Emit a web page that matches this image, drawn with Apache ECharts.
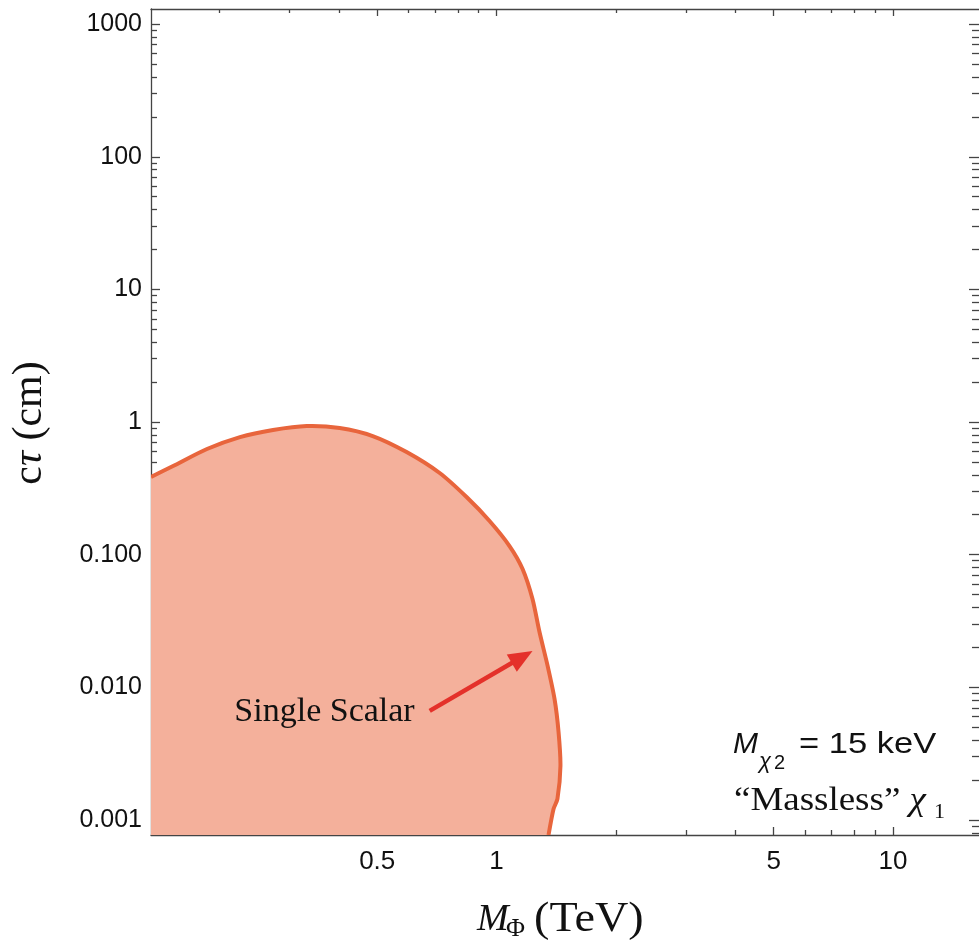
<!DOCTYPE html>
<html><head><meta charset="utf-8">
<script src="https://cdn.jsdelivr.net/npm/echarts@6/dist/echarts.min.js"></script>
<style>html,body{margin:0;padding:0;background:#fff}#c{width:979px;height:947px}</style>
</head><body><div id="c"></div>
<script>
// axis ranges
const xMin = 0.1344, xMax = 16.47;
const yMin = 0.00077, yMax = 1300;
// tick positions / labels
const xLabelTicks = [0.5, 1, 5, 10];
const xMinorTicks = [0.2, 0.3, 0.4, 0.6, 0.7, 0.8, 0.9, 2, 3, 4, 6, 7, 8, 9];
const yMajorTicks = [0.001, 0.01, 0.1, 1, 10, 100, 1000];
const yMinorTicks = [0.0008, 0.0009,
  0.002, 0.003, 0.004, 0.005, 0.006, 0.007, 0.008, 0.009,
  0.02, 0.03, 0.04, 0.05, 0.06, 0.07, 0.08, 0.09,
  0.2, 0.3, 0.4, 0.5, 0.6, 0.7, 0.8, 0.9,
  2, 3, 4, 5, 6, 7, 8, 9,
  20, 30, 40, 50, 60, 70, 80, 90,
  200, 300, 400, 500, 600, 700, 800, 900];
// "Single Scalar" excluded region boundary (M_Phi in TeV, c tau in cm)
const boundaryX = [0.1344, 0.1528, 0.186, 0.2253, 0.273, 0.332, 0.402, 0.487, 0.593, 0.7186, 0.840, 0.960, 1.078, 1.163, 1.232, 1.283, 1.345, 1.400, 1.433, 1.449, 1.424, 1.392, 1.352];
const boundaryY = [0.385, 0.466, 0.626, 0.770, 0.871, 0.933, 0.902, 0.7845, 0.594, 0.4128, 0.272, 0.1794, 0.1162, 0.078, 0.0463, 0.0261, 0.0145, 0.00817, 0.00461, 0.00255, 0.00144, 0.00121, 0.00077];
// annotation arrow (data coords)
const arrowFrom = [0.678, 0.00664];
const arrowTo = [1.232, 0.0188];

const frameColor = '#444';
const lblFont = '"Liberation Sans", Arial, sans-serif';
const serif = '"Liberation Serif", "Times New Roman", serif';

function xAx(pos, ticks, len, showLine, showLabel) {
  return {
    type: 'log', position: pos, min: xMin, max: xMax, logBase: 10,
    axisLine: { show: showLine, lineStyle: { color: frameColor, width: 1.3 } },
    axisTick: { show: true, inside: true, length: len, customValues: ticks, lineStyle: { color: frameColor, width: 1.3 } },
    axisLabel: showLabel ? { show: true, customValues: xLabelTicks, margin: 14, color: '#111', fontSize: 26, fontFamily: lblFont,
      formatter: v => String(+v.toPrecision(3)) } : { show: false },
    splitLine: { show: false }, minorTick: { show: false }
  };
}
function yAx(pos, ticks, len, showLine, showLabel) {
  return {
    type: 'log', position: pos, min: yMin, max: yMax, logBase: 10,
    axisLine: { show: showLine, lineStyle: { color: frameColor, width: 1.3 } },
    axisTick: { show: true, inside: true, length: len, customValues: ticks, lineStyle: { color: frameColor, width: 1.3 } },
    axisLabel: showLabel ? { show: true, customValues: yMajorTicks, margin: 9, color: '#111', fontSize: 25, fontFamily: lblFont,
      formatter: v => (v >= 1 ? String(Math.round(v)) : (+v).toFixed(3)) } : { show: false },
    splitLine: { show: false }, minorTick: { show: false }
  };
}

const chart = echarts.init(document.getElementById('c'), null, { renderer: 'canvas' });
chart.setOption({
  animation: false,
  backgroundColor: '#fff',
  grid: { left: 151, right: -2, top: 9, bottom: 112 },
  xAxis: [
    xAx('bottom', xLabelTicks, 8, true, true),
    xAx('bottom', xMinorTicks, 5, false, false),
    xAx('top', xLabelTicks, 7, true, false),
    xAx('top', xMinorTicks, 4, false, false)
  ],
  yAxis: [
    yAx('left', yMajorTicks, 9, true, true),
    yAx('left', yMinorTicks, 6, false, false),
    yAx('right', yMajorTicks, 10, false, false),
    yAx('right', yMinorTicks, 7, false, false)
  ],
  series: [{
    type: 'custom', xAxisIndex: 0, yAxisIndex: 0, clip: true,
    data: [[xMin, yMin]],
    renderItem: function (params, api) {
      const pts = boundaryX.map((x, i) => api.coord([x, boundaryY[i]]));
      const corner = api.coord([xMin, yMin]);
      const fillPts = pts.concat([corner]);
      const a0 = api.coord(arrowFrom), a1 = api.coord(arrowTo);
      const dx = a1[0] - a0[0], dy = a1[1] - a0[1], L = Math.hypot(dx, dy), ux = dx / L, uy = dy / L;
      const headLen = 24, headW = 10;
      const bx = a1[0] - ux * headLen, by = a1[1] - uy * headLen;
      const head = [[a1[0], a1[1]], [bx - uy * headW, by + ux * headW], [bx + uy * headW, by - ux * headW]];
      return {
        type: 'group', children: [
          { type: 'polygon', shape: { points: fillPts, smooth: 0 }, style: { fill: '#F4B09B' } },
          { type: 'polyline', shape: { points: pts, smooth: 0.25 }, style: { stroke: '#E8653C', lineWidth: 4, fill: null } },
          { type: 'line', shape: { x1: a0[0], y1: a0[1], x2: bx + ux * 3, y2: by + uy * 3 }, style: { stroke: '#E4312A', lineWidth: 4.5 } },
          { type: 'polygon', shape: { points: head }, style: { fill: '#E4312A' } },
          { type: 'text', x: a0[0] - 15, y: a0[1] + 1, style: { text: 'Single Scalar', fontSize: 34, fontFamily: serif, fill: '#111', align: 'right', verticalAlign: 'middle' } }
        ]
      };
    }
  }],
  graphic: [
    { type: 'text', x: 30, y: 423, rotation: Math.PI / 2,
      style: { text: '{n|c}{i|τ}{n| (cm)}', align: 'center', verticalAlign: 'middle', fill: '#111',
        rich: { n: { fontSize: 42, fontFamily: serif, fill: '#111' }, i: { fontSize: 42, fontFamily: serif, fontStyle: 'italic', fill: '#111' } } } },
    { type: 'text', x: 477, y: 920, style: { text: 'M', fontSize: 38, fontFamily: serif, fontStyle: 'italic', fill: '#111', align: 'left', verticalAlign: 'middle' } },
    { type: 'text', x: 506, y: 929, style: { text: 'Φ', fontSize: 26, fontFamily: serif, fill: '#111', align: 'left', verticalAlign: 'middle' } },
    { type: 'text', x: 534, y: 920, scaleX: 1.1, style: { text: '(TeV)', fontSize: 42, fontFamily: serif, fill: '#111', align: 'left', verticalAlign: 'middle' } },
    { type: 'text', x: 733, y: 745, style: { text: 'M', fontSize: 30, fontFamily: lblFont, fontStyle: 'italic', fill: '#111', align: 'left', verticalAlign: 'middle' } },
    { type: 'text', x: 759, y: 762, style: { text: 'χ', fontSize: 22, fontFamily: lblFont, fontStyle: 'italic', fill: '#111', align: 'left', verticalAlign: 'middle' } },
    { type: 'text', x: 774, y: 763, style: { text: '2', fontSize: 20, fontFamily: lblFont, fill: '#111', align: 'left', verticalAlign: 'middle' } },
    { type: 'text', x: 799, y: 745, scaleX: 1.15, style: { text: '= 15 keV', fontSize: 30, fontFamily: lblFont, fill: '#111', align: 'left', verticalAlign: 'middle' } },
    { type: 'text', x: 734, y: 801, scaleX: 1.12,
      style: { text: '{n|“Massless” }{i|χ}', align: 'left', verticalAlign: 'middle', fill: '#111',
        rich: { n: { fontSize: 33, fontFamily: serif, fill: '#111' }, i: { fontSize: 33, fontFamily: serif, fontStyle: 'italic', fill: '#111' } } } },
    { type: 'text', x: 934, y: 812, style: { text: '1', fontSize: 22, fontFamily: serif, fill: '#111', align: 'left', verticalAlign: 'middle' } }
  ]
});
</script></body></html>
